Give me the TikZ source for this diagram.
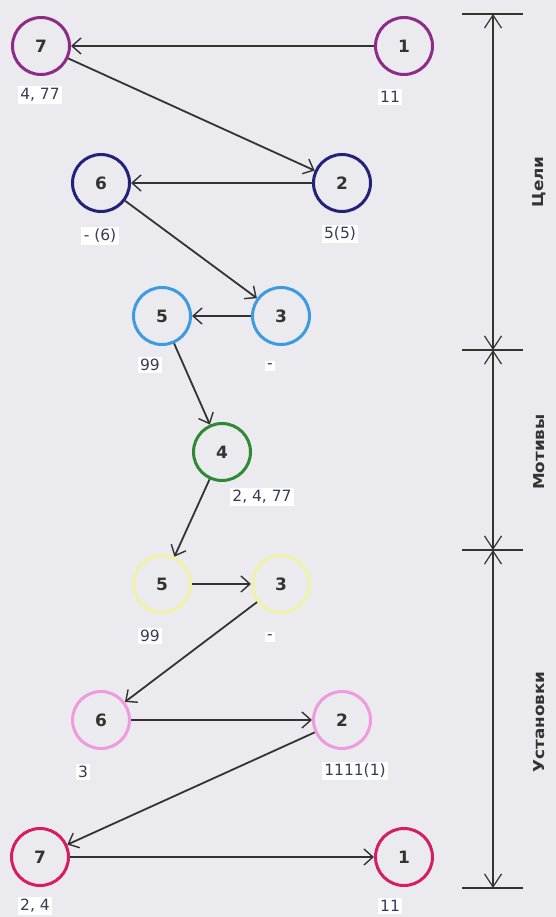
\documentclass[tikz,border=0pt]{standalone}
\usepackage{fontspec}
\setmainfont{DejaVu Sans}
\usetikzlibrary{arrows.meta}
\definecolor{bg}{HTML}{EAEAEF}
\definecolor{cpurple}{HTML}{8E2A88}
\definecolor{cnavy}{HTML}{22227A}
\definecolor{cblue}{HTML}{3C9BE0}
\definecolor{cgreen}{HTML}{2E8A32}
\definecolor{cyellow}{HTML}{F2F2A6}
\definecolor{cpink}{HTML}{EE9ADE}
\definecolor{cred}{HTML}{D61C62}
\definecolor{ink}{HTML}{333333}
\definecolor{lab}{HTML}{3A3A5A}
\begin{document}
\begin{tikzpicture}[x=1pt,y=-1pt,
  circ/.style={circle,draw=#1,line width=3pt,minimum size=57pt,inner sep=0pt,
    font=\fontsize{17}{19}\selectfont\bfseries,text=ink},
  lbl/.style={fill=white,inner sep=2.5pt,font=\fontsize{15.5}{17}\selectfont,text=lab},
  arr/.style={draw=ink,line width=1.8pt,-{Straight Barb[length=9pt,width=16pt,line width=1.4pt]}},
  dim/.style={draw=ink,line width=1.3pt,{Straight Barb[length=13pt,width=17pt,line width=1.2pt]}-{Straight Barb[length=13pt,width=17pt,line width=1.2pt]}},
  tick/.style={draw=ink,line width=1.6pt},
  side/.style={rotate=90,xscale=1.12,font=\fontsize{15}{17}\selectfont\bfseries,text=ink}]
\fill[bg] (0,0) rectangle (556,917);
\useasboundingbox (0,0) rectangle (556,917);
% nodes
\node[circ=cpurple] (a7) at (41,46) {7};
\node[circ=cpurple] (a1) at (404,46) {1};
\node[circ=cnavy] (b6) at (101,183) {6};
\node[circ=cnavy] (b2) at (342,183) {2};
\node[circ=cblue] (c5) at (162,316) {5};
\node[circ=cblue] (c3) at (281,316) {3};
\node[circ=cgreen] (d4) at (222,452) {4};
\node[circ=cyellow] (e5) at (162,584) {5};
\node[circ=cyellow] (e3) at (281,584) {3};
\node[circ=cpink] (f6) at (101,720) {6};
\node[circ=cpink] (f2) at (342,720) {2};
\node[circ=cred] (g7) at (40,857) {7};
\node[circ=cred] (g1) at (404,857) {1};
% labels
\node[lbl] (la7) at (40,95) {4, 77};
\node[lbl] (la1) at (390,97) {11};
\node[lbl] (lb6) at (100,236) {- (6)};
\node[lbl] (lb2) at (340,234) {5(5)};
\node[lbl] (lc5) at (150,365) {99};
\node[lbl] (lc3) at (270,366) {-};
\node[lbl] (ld4) at (262,497) {2, 4, 77};
\node[lbl] (le5) at (150,636) {99};
\node[lbl] (le3) at (270,637) {-};
\node[lbl] (lf6) at (83,772) {3};
\node[lbl] (lf2) at (355,771) {1111(1)};
\node[lbl] (lg7) at (35,906) {2, 4};
\node[lbl] (lg1) at (390,906) {11};
% connectors
\draw[arr] (a1) -- (a7);
\draw[arr] (a7) -- (b2);
\draw[arr] (b2) -- (b6);
\draw[arr] (b6) -- (c3);
\draw[arr] (c3) -- (c5);
\draw[arr] (c5) -- (d4);
\draw[arr] (d4) -- (e5);
\draw[arr] (e5) -- (e3);
\draw[arr] (e3) -- (f6);
\draw[arr] (f6) -- (f2);
\draw[arr] (f2) -- (g7);
\draw[arr] (g7) -- (g1);
% dimension line
\coordinate (p0) at (493,14);
\coordinate (p1) at (493,350);
\coordinate (p2) at (493,550);
\coordinate (p3) at (493,888);
\draw[dim] (p0) -- (p1);
\draw[dim] (p1) -- (p2);
\draw[dim] (p2) -- (p3);
\foreach \p in {p0,p1,p2,p3} \draw[tick] ([xshift=-31pt]\p) -- ([xshift=30pt]\p);
\node[side] (t1) at (539,182) {Цели};
\node[side] (t2) at (539,452) {Мотивы};
\node[side] (t3) at (539,722) {Установки};
\end{tikzpicture}
\end{document}
